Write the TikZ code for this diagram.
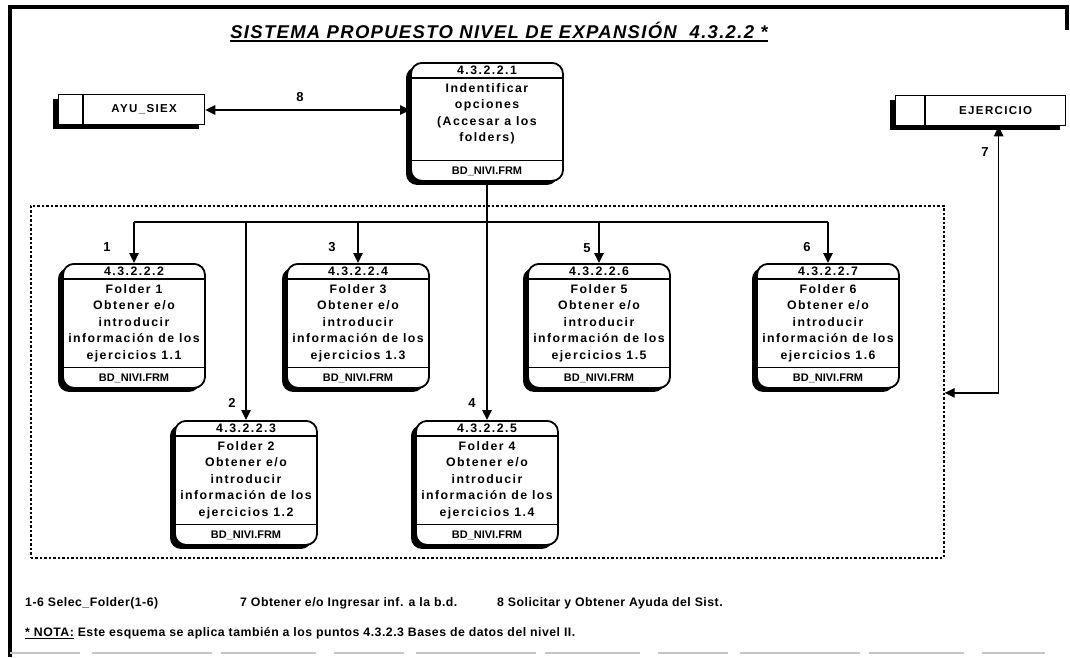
\documentclass[tikz,border=0pt]{standalone}
\usepackage{fontspec}
\setmainfont{Liberation Sans}
\newfontfamily\boxfont{Liberation Sans}[LetterSpace=12]
\newfontfamily\titlefont{Liberation Sans}[LetterSpace=7]
\newfontfamily\notefont{Liberation Sans}[LetterSpace=4]
\usetikzlibrary{arrows.meta,shadows}

\tikzset{
  proc/.style={draw, line width=1.8pt, fill=white, rounded corners=11pt, inner sep=0pt,
    anchor=north, general shadow={fill=black, shadow xshift=-5pt, shadow yshift=-4pt}},
  store/.style={draw, line width=1.3pt, fill=white, inner sep=0pt, anchor=north west,
    minimum height=30pt, general shadow={fill=black, shadow xshift=-6pt, shadow yshift=-4pt}},
  rule/.style={line width=1.3pt},
  boxtext/.style={font=\boxfont\bfseries\fontsize{12.3}{16.5}\selectfont, inner sep=0pt, align=center},
  frmtext/.style={font=\bfseries\fontsize{11}{11}\selectfont, inner sep=0pt},
  storetext/.style={font=\boxfont\bfseries\fontsize{11.5}{11.5}\selectfont, inner sep=0pt},
  wire/.style={line width=1.3pt},
  flow/.style={wire, -{Triangle[length=10pt,width=9.5pt]}},
  flowboth/.style={wire, {Triangle[length=10pt,width=9.5pt]}-{Triangle[length=10pt,width=9.5pt]}},
  num/.style={font=\bfseries\fontsize{13}{13}\selectfont, inner sep=0pt},
  group/.style={draw, line width=1.7pt, dash pattern=on 2.5pt off 2pt, anchor=north west, inner sep=0pt},
  legend/.style={font=\notefont\bfseries\fontsize{12.3}{12.3}\selectfont, inner sep=0pt, anchor=west},
}

% process box: name, centre x, top y, width, height, number, description
\newcommand\procbox[7]{%
  \node[proc, minimum width=#4pt, minimum height=#5pt] (#1) at (#2,#3) {};
  \draw[rule] ([yshift=-16pt]#1.north west) -- ([yshift=-16pt]#1.north east);
  \draw[rule] ([yshift=21pt]#1.south west) -- ([yshift=21pt]#1.south east);
  \node[boxtext] (#1-id) at ([yshift=-8.5pt]#1.north) {#6};
  \node[boxtext, anchor=north] (#1-txt) at ([yshift=-21pt]#1.north) {#7};
  \node[frmtext] (#1-frm) at ([yshift=10.5pt]#1.south) {BD\_NIVI.FRM};
}

\begin{document}
\begin{tikzpicture}[x=1pt,y=-1pt]
\useasboundingbox (0,0) rectangle (1070,657);

% page frame
\draw[line width=4pt] (10,657) -- (10,7) -- (1067,7) -- (1067,30);
\draw[gray!45, line width=1.2pt, dash pattern=on 70pt off 12pt on 120pt off 9pt on 95pt off 18pt]
  (10,653) -- (1045,653);

% title
\node[font=\titlefont\bfseries\itshape\fontsize{18.5}{18.5}\selectfont, inner sep=0pt]
  (title) at (499,30) {SISTEMA PROPUESTO NIVEL DE EXPANSIÓN\ \ 4.3.2.2 *};
\draw[line width=1.6pt] ([yshift=-3pt]title.base west) -- ([yshift=-3pt]title.base east);

% external stores
\node[store, minimum width=146pt] (ayu) at (58,94) {};
\draw[rule] ([xshift=25pt]ayu.north west) -- ([xshift=25pt]ayu.south west);
\node[storetext] (ayu-t) at ([xshift=12.5pt]ayu.center) {AYU\_SIEX};

\node[store, minimum width=170pt] (ejer) at (895,95) {};
\draw[rule] ([xshift=30pt]ejer.north west) -- ([xshift=30pt]ejer.south west);
\node[storetext] (ejer-t) at ([xshift=15pt]ejer.center) {EJERCICIO};

% grouping frame around the folders
\node[group, minimum width=913pt, minimum height=352pt] (grp) at (30,205) {};

% processes
\procbox{p1}{487}{62}{152}{118}{4.3.2.2.1}{Indentificar\\opciones\\(Accesar a los\\folders)}
\procbox{f1}{134}{263}{142}{124}{4.3.2.2.2}{Folder 1\\Obtener e/o\\introducir\\información de los\\ejercicios 1.1}
\procbox{f3}{358}{263}{142}{124}{4.3.2.2.4}{Folder 3\\Obtener e/o\\introducir\\información de los\\ejercicios 1.3}
\procbox{f5}{599}{263}{142}{124}{4.3.2.2.6}{Folder 5\\Obtener e/o\\introducir\\información de los\\ejercicios 1.5}
\procbox{f6}{828}{263}{142}{124}{4.3.2.2.7}{Folder 6\\Obtener e/o\\introducir\\información de los\\ejercicios 1.6}
\procbox{f2}{246}{420}{142}{124}{4.3.2.2.3}{Folder 2\\Obtener e/o\\introducir\\información de los\\ejercicios 1.2}
\procbox{f4}{487}{420}{142}{124}{4.3.2.2.5}{Folder 4\\Obtener e/o\\introducir\\información de los\\ejercicios 1.4}

% help flow
\draw[flowboth] (ayu.east |- 0,110) -- (p1.west |- 0,110);
\node[num] (l8) at (300,97) {8};

% folder selection bus
\coordinate (bus) at (487,222);
\draw[wire] (bus -| f1.north) -- (bus -| f6.north);
\draw[flow] (p1.south) -- (f4.north);
\draw[flow] (bus -| f1.north) -- (f1.north);
\draw[flow] (bus -| f2.north) -- (f2.north);
\draw[flow] (bus -| f3.north) -- (f3.north);
\draw[flow] (bus -| f5.north) -- (f5.north);
\draw[flow] (bus -| f6.north) -- (f6.north);
\node[num] (l1) at (107,247) {1};
\node[num] (l3) at (332,247) {3};
\node[num] (l5) at (587,248) {5};
\node[num] (l6) at (807,247) {6};
\node[num] (l2) at (232,403) {2};
\node[num] (l4) at (472,403) {4};

% exercise data flow
\draw[flowboth] ([yshift=-11pt]grp.east) -| ([xshift=18pt]ejer.south);
\node[num] (l7) at (985,152) {7};

% legend
\node[legend] (leg1) at (25,603) {1-6 Selec\_Folder(1-6)};
\node[legend] (leg2) at (240,603) {7 Obtener e/o Ingresar inf. a la b.d.};
\node[legend] (leg3) at (497,603) {8 Solicitar y Obtener Ayuda del Sist.};
\node[legend] (nota) at (25,633) {\underline{* NOTA:} Este\ esquema se aplica también a los puntos 4.3.2.3 Bases de datos del nivel II.};
\end{tikzpicture}
\end{document}
